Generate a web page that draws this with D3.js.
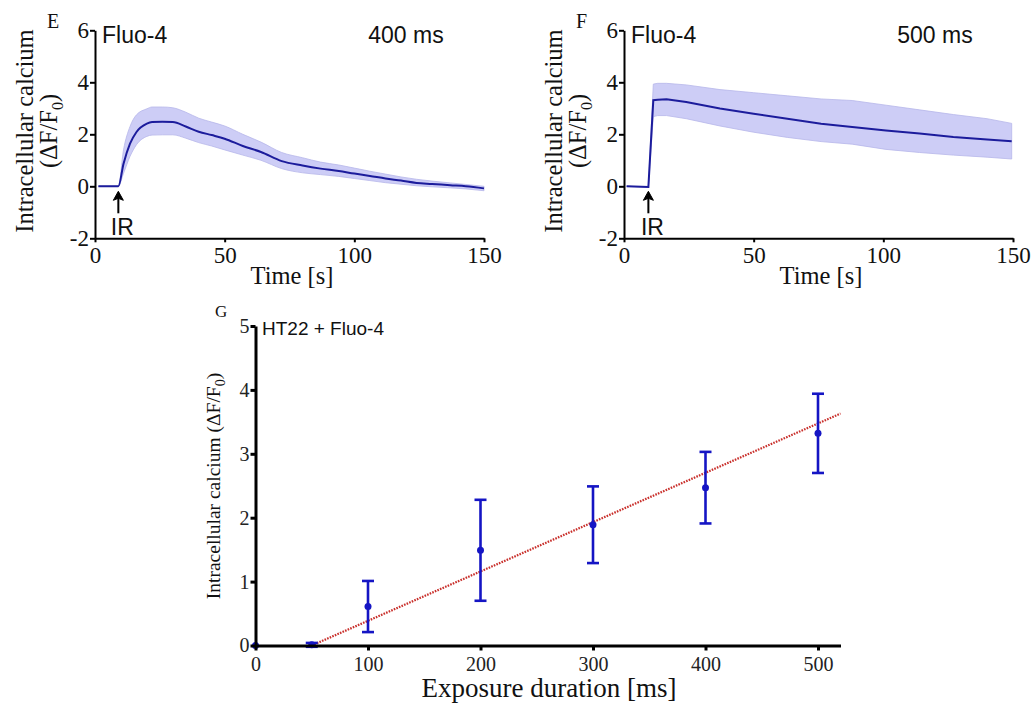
<!DOCTYPE html>
<html>
<head>
<meta charset="utf-8">
<script src="https://cdn.jsdelivr.net/npm/d3@7"></script>
<style>
  html, body { margin: 0; padding: 0; background: #fff; }
  svg { display: block; }
</style>
</head>
<body>
<svg id="chart" width="1034" height="703"></svg>
<script>
// ---------------- DATA ----------------
// Panel E: Fluo-4, 400 ms
const eTime  = [1.3, 9, 11, 13.5, 16, 20, 22, 26, 30, 35, 40, 45, 50, 57, 64, 72, 80, 87, 94, 100, 106, 112, 118, 124, 130, 137, 143, 150];
const eMean  = [0, 0, 0.87, 1.64, 2.09, 2.41, 2.47, 2.48, 2.47, 2.3, 2.1, 1.97, 1.83, 1.55, 1.32, 0.97, 0.8, 0.68, 0.59, 0.49, 0.4, 0.3, 0.22, 0.13, 0.09, 0.04, 0.0, -0.08];
const eUpper = [0, 0, 1.4, 2.3, 2.75, 2.98, 3.05, 3.05, 3.02, 2.85, 2.62, 2.47, 2.32, 2.0, 1.7, 1.3, 1.1, 0.93, 0.82, 0.7, 0.58, 0.47, 0.36, 0.27, 0.2, 0.13, 0.07, 0.0];
const eLower = [0, 0, 0.5, 1.15, 1.6, 1.92, 1.97, 1.98, 1.98, 1.85, 1.68, 1.55, 1.4, 1.2, 1.0, 0.68, 0.52, 0.45, 0.38, 0.3, 0.22, 0.14, 0.08, 0.02, -0.02, -0.06, -0.1, -0.17];

// Panel F: Fluo-4, 500 ms
const fTime  = [1, 9.4, 11.3, 13, 16.4, 24, 37, 50, 63, 76, 88, 101, 114, 127, 140, 149.5];
const fMean  = [0, -0.03, 3.31, 3.33, 3.35, 3.24, 2.99, 2.79, 2.6, 2.41, 2.28, 2.15, 2.03, 1.9, 1.8, 1.73];
const fUpper = [0, -0.03, 3.93, 3.96, 3.96, 3.9, 3.72, 3.6, 3.48, 3.36, 3.3, 3.12, 2.94, 2.76, 2.6, 2.42];
const fLower = [0, -0.03, 2.68, 2.72, 2.72, 2.6, 2.32, 2.08, 1.88, 1.72, 1.62, 1.42, 1.3, 1.2, 1.12, 1.05];

const timeTicks = [0, 50, 100, 150];
const calciumTicks = [-2, 0, 2, 4, 6];
const irTimeE = 9;
const irTimeF = 9.4;

// Panel G: HT22 + Fluo-4, dose response
const exposureMs   = [0, 50, 100, 200, 300, 400, 500];
const exposureMean = [0, 0.01, 0.61, 1.49, 1.89, 2.47, 3.32];
const exposureErr  = [0, 0.03, 0.40, 0.79, 0.60, 0.56, 0.62];
const fitX = [50, 520];
const fitY = [0, 3.63];
const exposureTicks = [0, 100, 200, 300, 400, 500];
const gCalciumTicks = [0, 1, 2, 3, 4, 5];

// ---------------- DRAWING ----------------
const svg = d3.select("#chart");
const SERIF = "'Liberation Serif','Times New Roman',serif";
const SANS = "'Liberation Sans',Arial,sans-serif";
const lineColor = "#1c1c9c";
const bandColor = "#cdcdf6";

function timecourse(opts) {
  const x = d3.scaleLinear().domain([0, 150]).range([opts.x0, opts.x0 + 389]);
  const y = d3.scaleLinear().domain([-2, 6]).range([238.3, 30.3]);
  const g = svg.append("g");
  const pts = opts.time.map((t, i) => ({t, m: opts.mean[i], u: opts.upper[i], l: opts.lower[i]}));

  g.append("path").datum(pts)
    .attr("d", d3.area().x(d => x(d.t)).y0(d => y(d.l)).y1(d => y(d.u)).curve(opts.curve))
    .attr("fill", bandColor).attr("stroke", "#b6b6ea").attr("stroke-width", 0.8);
  g.append("path").datum(pts)
    .attr("d", d3.line().x(d => x(d.t)).y(d => y(d.m)).curve(opts.curve))
    .attr("fill", "none").attr("stroke", lineColor).attr("stroke-width", 2);

  const xa = g.append("g").attr("transform", `translate(0,${y(-2)})`)
    .call(d3.axisBottom(x).tickValues(timeTicks).tickFormat(d3.format("d")).tickSize(4).tickSizeOuter(0).tickPadding(4));
  const ya = g.append("g").attr("transform", `translate(${x(0)},0)`)
    .call(d3.axisLeft(y).tickValues(calciumTicks).tickFormat(d => d < 0 ? "-" + Math.abs(d) : d).tickSize(5).tickSizeOuter(0).tickPadding(1));
  [xa, ya].forEach(a => {
    a.select(".domain").attr("stroke", "#000").attr("stroke-width", 2);
    a.selectAll(".tick line").attr("stroke", "#000").attr("stroke-width", 2);
    a.selectAll(".tick text").attr("fill", "#111").style("font-family", SERIF).style("font-size", "23px");
  });

  // labels
  g.append("text").attr("x", x(0) + (292 - 95)).attr("y", 284).attr("text-anchor", "middle")
    .style("font-family", SERIF).style("font-size", "24.5px").attr("fill", "#111").text("Time [s]");
  const yt = g.append("text").attr("transform", `translate(${opts.x0 - 62},131) rotate(-90)`)
    .attr("text-anchor", "middle").style("font-family", SERIF).style("font-size", "24.5px").attr("fill", "#111");
  yt.append("tspan").attr("x", 0).attr("y", 0).text("Intracellular calcium");
  const l2 = yt.append("tspan").attr("x", 0).attr("y", 24);
  l2.append("tspan").text("(\u0394F/F");
  l2.append("tspan").attr("dy", 6).style("font-size", "16px").text("0");
  l2.append("tspan").attr("dy", -6).text(")");

  g.append("text").attr("x", opts.x0 - 48).attr("y", 28)
    .style("font-family", SERIF).style("font-size", "20px").attr("fill", "#111").text(opts.letter);
  g.append("text").attr("x", opts.x0 + 7).attr("y", 43)
    .style("font-family", SANS).style("font-size", "23px").attr("fill", "#111").text("Fluo-4");
  g.append("text").attr("x", opts.x0 + 311).attr("y", 43).attr("text-anchor", "middle")
    .style("font-family", SANS).style("font-size", "23px").attr("fill", "#111").text(opts.duration);

  // IR arrow
  const ax = x(opts.ir), tip = y(0) + 5;
  g.append("line").attr("x1", ax).attr("x2", ax).attr("y1", y(0) + 27).attr("y2", tip + 6)
    .attr("stroke", "#000").attr("stroke-width", 2);
  g.append("path").attr("d", `M${ax},${tip} L${ax - 5},${tip + 9} L${ax},${tip + 7} L${ax + 5},${tip + 9} Z`)
    .attr("fill", "#000").attr("stroke", "#000").attr("stroke-width", 1);
  g.append("text").attr("x", ax + 4).attr("y", 235).attr("text-anchor", "middle")
    .style("font-family", SANS).style("font-size", "23px").attr("fill", "#111").text("IR");
}

timecourse({x0: 95, time: eTime, mean: eMean, upper: eUpper, lower: eLower, ir: irTimeE,
            letter: "E", duration: "400 ms", curve: d3.curveMonotoneX});
timecourse({x0: 624, time: fTime, mean: fMean, upper: fUpper, lower: fLower, ir: irTimeF,
            letter: "F", duration: "500 ms", curve: d3.curveLinear});

// ---------------- Panel G ----------------
(function () {
  const x = d3.scaleLinear().domain([0, 520]).range([255.5, 840.5]);
  const y = d3.scaleLinear().domain([0, 5]).range([645.5, 326]);
  const g = svg.append("g");
  const blue = "#1515c4";

  // fit line
  g.append("line").attr("x1", x(fitX[0])).attr("y1", y(fitY[0])).attr("x2", x(fitX[1])).attr("y2", y(fitY[1]))
    .attr("stroke", "#c9302c").attr("stroke-width", 2.2).attr("stroke-dasharray", "1.6 1.2");

  const pts = exposureMs.map((d, i) => ({x: d, m: exposureMean[i], e: exposureErr[i]}));
  const eb = g.selectAll(".eb").data(pts.filter(d => d.e > 0)).join("g");
  eb.append("line").attr("x1", d => x(d.x)).attr("x2", d => x(d.x))
    .attr("y1", d => y(d.m - d.e)).attr("y2", d => y(d.m + d.e))
    .attr("stroke", blue).attr("stroke-width", 2.6);
  [1, -1].forEach(s => {
    eb.append("line").attr("x1", d => x(d.x) - 6).attr("x2", d => x(d.x) + 6)
      .attr("y1", d => y(d.m + s * d.e)).attr("y2", d => y(d.m + s * d.e))
      .attr("stroke", blue).attr("stroke-width", 2.6);
  });
  g.selectAll(".pt").data(pts).join("circle")
    .attr("cx", d => x(d.x)).attr("cy", d => y(d.m)).attr("r", 3.5).attr("fill", blue);

  const xa = g.append("g").attr("transform", `translate(0,${y(0)})`)
    .call(d3.axisBottom(x).tickValues(exposureTicks).tickFormat(d3.format("d")).tickSize(5).tickSizeOuter(0).tickPadding(6));
  const ya = g.append("g").attr("transform", `translate(${x(0)},0)`)
    .call(d3.axisLeft(y).tickValues(gCalciumTicks).tickFormat(d3.format("d")).tickSize(5).tickSizeOuter(0).tickPadding(1));
  [xa, ya].forEach(a => {
    a.select(".domain").attr("stroke", "#000").attr("stroke-width", 3);
    a.selectAll(".tick line").attr("stroke", "#000").attr("stroke-width", 3);
    a.selectAll(".tick text").attr("fill", "#222").style("font-family", SERIF).style("font-size", "20px");
  });

  g.append("text").attr("x", 549).attr("y", 697).attr("text-anchor", "middle")
    .style("font-family", SERIF).style("font-size", "27px").attr("fill", "#111").text("Exposure duration [ms]");
  const yt = g.append("text").attr("transform", `translate(220,486) rotate(-90)`)
    .attr("text-anchor", "middle").style("font-family", SERIF).style("font-size", "19.5px").attr("fill", "#111");
  yt.append("tspan").text("Intracellular calcium (\u0394F/F");
  yt.append("tspan").attr("dy", 5).style("font-size", "14px").text("0");
  yt.append("tspan").attr("dy", -5).text(")");

  g.append("text").attr("x", 215).attr("y", 317)
    .style("font-family", SERIF).style("font-size", "17px").attr("fill", "#111").text("G");
  g.append("text").attr("x", 262).attr("y", 335)
    .style("font-family", SANS).style("font-size", "19px").attr("fill", "#111").text("HT22 + Fluo-4");
})();
</script>
</body>
</html>
